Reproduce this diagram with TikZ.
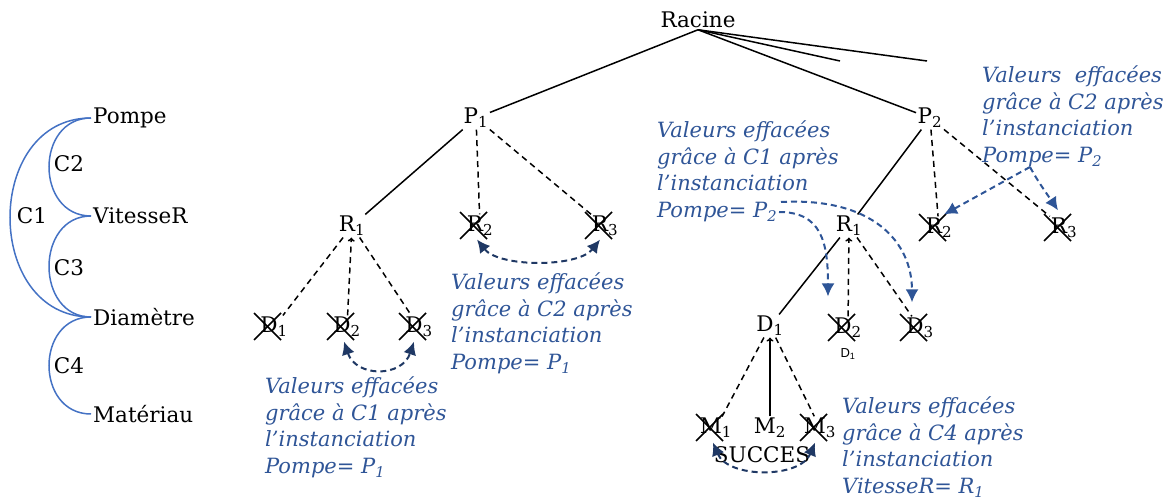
\documentclass[tikz,border=0pt]{standalone}
\usepackage{fontspec}
\setmainfont{DejaVu Serif}
\setsansfont{Liberation Sans}
\usetikzlibrary{arrows.meta,calc}
\definecolor{arcblue}{HTML}{4472C4}
\definecolor{notetext}{HTML}{2F5597}
\definecolor{navy}{HTML}{1F3864}
\definecolor{midblue}{HTML}{2E5597}

% X drawn over a pruned value
\newcommand\crossnode[1]{%
  \draw[line width=1.5pt] ($(#1.center)+(-20,-14)$) -- ($(#1.center)+(7,13)$);
  \draw[line width=1.5pt] ($(#1.center)+(-20,13)$) -- ($(#1.center)+(7,-14)$);}

\begin{document}
\begin{tikzpicture}[x=1pt,y=-1pt,
  lbl/.style={inner sep=1.5pt, font=\fontsize{21.5}{25}\selectfont},
  var/.style={anchor=west, inner sep=2pt, font=\fontsize{21.5}{25}\selectfont},
  cname/.style={inner sep=0pt, font=\fontsize{21.5}{25}\selectfont},
  link/.style={arcblue, line width=1.5pt},
  edge/.style={line width=1.5pt},
  pruned/.style={edge, dash pattern=on 6pt off 4.5pt},
  uptip/.style={-{To[length=4pt,width=7pt]}},
  note/.style={anchor=north west, inner sep=0pt, align=left, text=notetext,
    font=\fontsize{21}{26.5}\selectfont\itshape},
  erase/.style={navy, line width=2pt, dash pattern=on 6pt off 4pt,
    {Latex[length=13pt,width=13pt]}-{Latex[length=13pt,width=13pt]}},
  pointer/.style={midblue, line width=2pt, dash pattern=on 6pt off 4pt,
    -{Latex[length=13pt,width=13pt]}}
]
\useasboundingbox (0,0) rectangle (1168,502);

% ---- constraint network ----
\node[var] (pompe) at (91,118) {Pompe};
\node[var] (vit)   at (91,216) {VitesseR};
\node[var] (diam)  at (91,317) {Diamètre};
\node[var] (mat)   at (91,414) {Matériau};
\draw[link] (pompe.west) .. controls +(-56,0) and +(-56,0) .. (vit.west);
\draw[link] (pompe.west) .. controls +(-108,0) and +(-108,0) .. (diam.west);
\draw[link] (vit.west) .. controls +(-56,0) and +(-56,0) .. (diam.west);
\draw[link] (diam.west) .. controls +(-56,0) and +(-56,0) .. (mat.west);
\node[cname] (c2) at (69,164) {C2};
\node[cname] (c1) at (32,216) {C1};
\node[cname] (c3) at (69,268) {C3};
\node[cname] (c4) at (69,366) {C4};

% ---- search tree ----
\node[lbl] (root) at (698,20) {Racine};
\node[lbl] (P1) at (476,118) {P\textsubscript{1}};
\node[lbl] (P2) at (930,118) {P\textsubscript{2}};
\coordinate (b3) at (840,61);
\coordinate (b4) at (927,61);
\draw[edge] (root.south) -- (P1);
\draw[edge] (root.south) -- (P2);
\draw[edge] (root.south) -- (b3);
\draw[edge] (root.south) -- (b4);

% first branch
\node[lbl] (LR1) at (352,226) {R\textsubscript{1}};
\node[lbl] (LR2) at (480,226) {R\textsubscript{2}};
\node[lbl] (LR3) at (605,226) {R\textsubscript{3}};
\draw[edge] (P1) -- (LR1);
\draw[pruned] (P1) -- (LR2);
\draw[pruned] (P1) -- (LR3);
\node[lbl] (LD1) at (274,327) {D\textsubscript{1}};
\node[lbl] (LD2) at (347,327) {D\textsubscript{2}};
\node[lbl] (LD3) at (419,327) {D\textsubscript{3}};
\draw[pruned] (LR1) -- (LD1);
\draw[pruned,uptip] (LD2) -- (LR1);
\draw[pruned] (LR1) -- (LD3);
\crossnode{LR2}\crossnode{LR3}
\crossnode{LD1}\crossnode{LD2}\crossnode{LD3}

% second branch
\node[lbl] (RR1) at (849,226) {R\textsubscript{1}};
\node[lbl] (RR2) at (939,228) {R\textsubscript{2}};
\node[lbl] (RR3) at (1064,228) {R\textsubscript{3}};
\draw[edge] (P2) -- (RR1);
\draw[pruned] (P2) -- (RR2);
\draw[pruned] (P2) -- (RR3);
\node[lbl] (RD1) at (770,326) {D\textsubscript{1}};
\node[lbl] (RD2) at (848,328) {D\textsubscript{2}};
\node[lbl] (RD3) at (920,328) {D\textsubscript{3}};
\draw[edge] (RR1) -- (RD1);
\draw[pruned,uptip] (RD2) -- (RR1);
\draw[pruned] (RR1) -- (RD3);
\node[inner sep=0pt, font=\sffamily\fontsize{13}{15}\selectfont] (dlab) at (848,354) {D\textsubscript{1}};
\crossnode{RR2}\crossnode{RR3}
\crossnode{RD2}\crossnode{RD3}

\node[lbl] (M1) at (716,428) {M\textsubscript{1}};
\node[lbl] (M2) at (770,428) {M\textsubscript{2}};
\node[lbl] (M3) at (820,428) {M\textsubscript{3}};
\draw[pruned] (RD1) -- (M1);
\draw[edge,uptip] (M2) -- (RD1);
\draw[pruned] (RD1) -- (M3);
\crossnode{M1}\crossnode{M3}
\node[lbl] (succ) at (762,455) {SUCCES};

% ---- removed values ----
\coordinate (e1) at ($(LD2.south)+(-3,3)$);
\coordinate (e2) at ($(LD3.south)+(-5,3)$);
\draw[erase] (e1) .. controls +(12,36) and +(-12,36) .. (e2);
\coordinate (e3) at ($(LR2.south)+(-3,2)$);
\coordinate (e4) at ($(LR3.south)+(-5,2)$);
\draw[erase] (e3) .. controls +(22,28) and +(-22,28) .. (e4);
\coordinate (e5) at ($(M1.south)+(-3,3)$);
\coordinate (e6) at ($(M3.south)+(-5,3)$);
\draw[erase] (e5) .. controls +(15,36) and +(-15,36) .. (e6);

\node[note] (n1) at (265,377) {Valeurs effacées\\grâce à C1 après\\l’instanciation\\Pompe= P\textsubscript{1}};
\node[note] (n2) at (451,273) {Valeurs effacées\\grâce à C2 après\\l’instanciation\\Pompe= P\textsubscript{1}};
\node[note] (n3) at (657,121) {Valeurs effacées\\grâce à C1 après\\l’instanciation\\Pompe= P\textsubscript{2}};
\node[note] (n4) at (982,66) {Valeurs\ \ effacées\\grâce à C2 après\\l’instanciation\\Pompe= P\textsubscript{2}};
\node[note] (n5) at (842,397) {Valeurs effacées\\grâce à C4 après\\l’instanciation\\VitesseR= R\textsubscript{1}};

\coordinate (s1) at (779,212);
\coordinate (s2) at (781,202);
\draw[pointer] (s1) .. controls +(42,0) and +(0,-55) .. ($(RD2.north)+(-20,-20)$);
\draw[pointer] (s2) .. controls +(92,-5) and +(0,-60) .. ($(RD3.north)+(-8,-14)$);
\coordinate (s3) at (1030,167);
\draw[pointer] (s3) -- ($(RR2.north)+(5,-2)$);
\draw[pointer] (s3) .. controls +(8,15) and +(-8,-12) .. ($(RR3.north)+(-6,-6)$);
\end{tikzpicture}
\end{document}
